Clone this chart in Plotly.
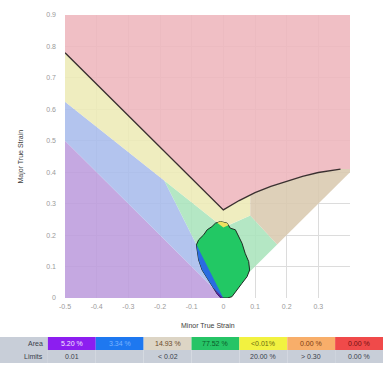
import numpy as np
import plotly.graph_objects as go

# ---------------- data ----------------
FLC_MINOR = [-0.5, 0.0, 0.05, 0.10, 0.15, 0.20, 0.25, 0.30, 0.37]
FLC_MAJOR = [0.78, 0.28, 0.31, 0.335, 0.355, 0.372, 0.387, 0.399, 0.41]
SAFETY_MARGIN = 0.20          # risk band = lower 20 % below the FLC
RISK_END_MINOR = 0.085        # right end of the risk band
THIN_END_MINOR = 0.17         # where thinning zone meets equi-biaxial line
PURE_SHEAR_SLOPE = -1.0
UNIAXIAL_SLOPE = -2.0
EQUIBIAXIAL_SLOPE = 1.0

BLOB_MINOR = [-0.025, -0.009, 0.012, 0.022, 0.038, 0.048, 0.059, 0.069, 0.080, 0.083,
              0.075, 0.059, 0.043, 0.027, 0.012, -0.008, -0.019, -0.030, -0.043, -0.056,
              -0.067, -0.078, -0.083, -0.085, -0.078, -0.062, -0.051, -0.036]
BLOB_MAJOR = [0.238, 0.243, 0.238, 0.222, 0.217, 0.195, 0.174, 0.142, 0.116, 0.089,
              0.068, 0.047, 0.025, 0.004, 0.0, 0.0, 0.012, 0.029, 0.050, 0.070,
              0.089, 0.121, 0.147, 0.169, 0.185, 0.201, 0.217, 0.227]

X_RANGE = [-0.5, 0.4]
Y_RANGE = [0.0, 0.9]
X_TICKS = [-0.5, -0.4, -0.3, -0.2, -0.1, 0.0, 0.1, 0.2, 0.3, 0.4]
X_TICK_TEXT = ["-0.5", "-0.4", "-0.3", "-0.2", "-0.1", "0", "0.1", "0.2", "0.3", ""]
Y_TICKS = [0.0, 0.1, 0.2, 0.3, 0.4, 0.5, 0.6, 0.7, 0.8, 0.9]
Y_TICK_TEXT = ["0", "0.1", "0.2", "0.3", "0.4", "0.5", "0.6", "0.7", "0.8", "0.9"]

TABLE_ROW_LABELS = ["Area", "Limits"]
AREA_TEXT = ["5.20 %", "3.34 %", "14.93 %", "77.52 %", "<0.01%", "0.00 %", "0.00 %"]
LIMIT_TEXT = ["0.01", "", "< 0.02", "", "20.00 %", "> 0.30", "0.00 %"]

# ---------------- styles ----------------
W, H = 383, 369
PLOT_L, PLOT_R, PLOT_T, PLOT_B = 65, 350, 15, 298
TABLE_TOP, ROW_H = 337, 13
FONT = "Liberation Sans"
ALPHA = 0.88


def rgba(rgb, a=ALPHA):
    # colour that looks like `rgb` when drawn over white with alpha a
    c = [max(0, min(255, round((v - (1 - a) * 255) / a))) for v in rgb]
    return f"rgba({c[0]},{c[1]},{c[2]},{a})"


ZONE_COL = {
    "pink": rgba((240, 191, 197)),
    "yellow": rgba((239, 237, 191)),
    "blue": rgba((178, 196, 238)),
    "purple": rgba((197, 168, 225)),
    "green": rgba((180, 231, 196)),
    "tan": rgba((222, 208, 185)),
}
BLOB_COL = {"green": "#22c864", "blue": "#2a6ce0", "purple": "#5a1ea8", "yellow": "#eee060"}


def flc(x):
    return np.interp(x, FLC_MINOR, FLC_MAJOR)


def risk(x):
    return (1 - SAFETY_MARGIN) * flc(x)


def samp(a, b, n=80):
    pts = [a, b] + [v for v in FLC_MINOR if a < v < b]
    return np.unique(np.concatenate([np.linspace(a, b, n), pts]))


# intersection of risk line with uniaxial line (left side)
xg = np.linspace(-0.5, 0, 2001)
d = risk(xg) - UNIAXIAL_SLOPE * xg
x_u = float(np.interp(0.0, d, xg))
y_u = UNIAXIAL_SLOPE * x_u

xl, xr = X_RANGE
polys = []
polys.append(("purple", [xl, xl, 0.0], [0.0, PURE_SHEAR_SLOPE * xl, 0.0]))
s = samp(xl, x_u)
polys.append(("blue", [0.0, xl] + list(s) + [x_u],
              [0.0, PURE_SHEAR_SLOPE * xl] + list(risk(s)) + [y_u]))
s = samp(x_u, RISK_END_MINOR)
polys.append(("green", [0.0] + list(s) + [THIN_END_MINOR],
              [0.0] + list(risk(s)) + [EQUIBIAXIAL_SLOPE * THIN_END_MINOR]))
s = samp(xl, RISK_END_MINOR)
polys.append(("yellow", list(s) + list(s[::-1]), list(flc(s)) + list(risk(s[::-1]))))
s = samp(RISK_END_MINOR, FLC_MINOR[-1])
polys.append(("tan", list(s) + [xr, xr, THIN_END_MINOR, RISK_END_MINOR],
              list(flc(s)) + [FLC_MAJOR[-1], EQUIBIAXIAL_SLOPE * xr,
                              EQUIBIAXIAL_SLOPE * THIN_END_MINOR, float(risk(RISK_END_MINOR))]))
polys.append(("pink", FLC_MINOR + [xr, xr, xl], FLC_MAJOR + [FLC_MAJOR[-1], Y_RANGE[1], Y_RANGE[1]]))


def clip(px, py, a, b, c):
    """Keep part of polygon where a*x + b*y + c >= 0."""
    out_x, out_y = [], []
    n = len(px)
    for i in range(n):
        x1, y1 = px[i], py[i]
        x2, y2 = px[(i + 1) % n], py[(i + 1) % n]
        f1 = a * x1 + b * y1 + c
        f2 = a * x2 + b * y2 + c
        if f1 >= 0:
            out_x.append(x1)
            out_y.append(y1)
        if (f1 >= 0) != (f2 >= 0):
            t = f1 / (f1 - f2)
            out_x.append(x1 + t * (x2 - x1))
            out_y.append(y1 + t * (y2 - y1))
    return out_x, out_y


fig = go.Figure()
for name, px, py in polys:
    fig.add_trace(go.Scatter(x=px, y=py, mode="lines", fill="toself", fillcolor=ZONE_COL[name],
                             line=dict(width=0), hoverinfo="skip", showlegend=False))

fig.add_trace(go.Scatter(x=FLC_MINOR, y=FLC_MAJOR, mode="lines", line=dict(color="#3a3030", width=1.4),
                         showlegend=False, hoverinfo="skip"))

bx, by = list(BLOB_MINOR), list(BLOB_MAJOR)
fig.add_trace(go.Scatter(x=bx + [bx[0]], y=by + [by[0]], mode="lines", fill="toself",
                         fillcolor=BLOB_COL["green"], line=dict(color="#1e2a22", width=1),
                         showlegend=False, hoverinfo="skip"))
r_slope_l = (1 - SAFETY_MARGIN) * (FLC_MAJOR[1] - FLC_MAJOR[0]) / (FLC_MINOR[1] - FLC_MINOR[0])
r_slope_r = (1 - SAFETY_MARGIN) * (FLC_MAJOR[2] - FLC_MAJOR[1]) / (FLC_MINOR[2] - FLC_MINOR[1])
r0 = (1 - SAFETY_MARGIN) * FLC_MAJOR[1]
cx, cy = clip(bx, by, UNIAXIAL_SLOPE, -1, 0)        # y <= -2x
cx, cy = clip(cx, cy, -PURE_SHEAR_SLOPE, 1, 0)      # y >= -x
over = [("blue", cx, cy)]
px_, py_ = clip(bx, by, PURE_SHEAR_SLOPE, -1, 0)    # y <= -x
over.append(("purple", px_, py_))
yx, yy = clip(bx, by, -r_slope_l, 1, -r0)
yx, yy = clip(yx, yy, -r_slope_r, 1, -r0)
over.append(("yellow", yx, yy))
for name, ox, oy in over:
    if len(ox) >= 3:
        fig.add_trace(go.Scatter(x=ox + [ox[0]], y=oy + [oy[0]], mode="lines", fill="toself",
                                 fillcolor=BLOB_COL[name], line=dict(width=0),
                                 showlegend=False, hoverinfo="skip"))

# ---------------- results table (shapes + text in paper coords) ----------------
TABLE_BG = "#c8ced8"
area_fill = [TABLE_BG, "#8c1ef0", "#1e78f0", "#ddd5c5", "#26c466", "#f2f240", "#f8ae6a", "#f04a4a"]
area_font = ["#3a3f4a", "#f4e8ff", "#7cb4ff", "#6a4a2a", "#0b5a2a", "#6a6a10", "#7a3a10", "#701010"]
rows = [[TABLE_ROW_LABELS[0]] + AREA_TEXT, [TABLE_ROW_LABELS[1]] + LIMIT_TEXT]
ncol = len(rows[0])
colw = W / ncol
shapes, annos = [], []
for r, row in enumerate(rows):
    y_top = TABLE_TOP + r * ROW_H
    y_bot = y_top + ROW_H
    for c, txt in enumerate(row):
        fill = area_fill[c] if r == 0 else TABLE_BG
        shapes.append(dict(type="rect", xref="paper", yref="paper", x0=c * colw / W, x1=(c + 1) * colw / W,
                           y0=1 - y_bot / H, y1=1 - y_top / H, fillcolor=fill, line=dict(width=0),
                           layer="above"))
        if not txt:
            continue
        if c == 0:
            ax, anc = (colw - 3) / W, "right"
        else:
            ax, anc = (c + 0.5) * colw / W, "center"
        annos.append(dict(text=txt, xref="paper", yref="paper", x=ax, xanchor=anc,
                          y=1 - (y_top + ROW_H / 2) / H, yanchor="middle", showarrow=False,
                          font=dict(family=FONT, size=7,
                                    color=area_font[c] if r == 0 else "#3a3f4a")))

annos += [
    dict(text="Minor True Strain", xref="paper", yref="paper", x=(PLOT_L + PLOT_R) / 2 / W,
         xanchor="center", y=1 - 325 / H, yanchor="middle", showarrow=False,
         font=dict(family=FONT, size=7, color="#404040")),
    dict(text="Major True Strain", xref="paper", yref="paper", x=20 / W, xanchor="center",
         y=1 - (PLOT_T + PLOT_B) / 2 / H, yanchor="middle", textangle=-90, showarrow=False,
         font=dict(family=FONT, size=7, color="#404040")),
]

axis_common = dict(showgrid=True, gridcolor="#dcdcdc", gridwidth=1, zeroline=False,
                   showline=False, ticks="", automargin=False,
                   tickfont=dict(family=FONT, size=7, color="#9a9a9a"))
fig.update_layout(
    width=W, height=H,
    margin=dict(l=0, r=0, t=0, b=0),
    paper_bgcolor="white", plot_bgcolor="white",
    showlegend=False,
    xaxis=dict(range=X_RANGE, domain=[PLOT_L / W, PLOT_R / W], tickvals=X_TICKS,
               ticktext=X_TICK_TEXT, ticklabelstandoff=3, **axis_common),
    yaxis=dict(range=Y_RANGE, domain=[1 - PLOT_B / H, 1 - PLOT_T / H], tickvals=Y_TICKS,
               ticktext=Y_TICK_TEXT, ticklabelstandoff=8, **axis_common),
    shapes=shapes,
    annotations=annos,
)

fig.write_html("out.html", config={"displayModeBar": False},
               post_script="document.body.style.margin='0';")
